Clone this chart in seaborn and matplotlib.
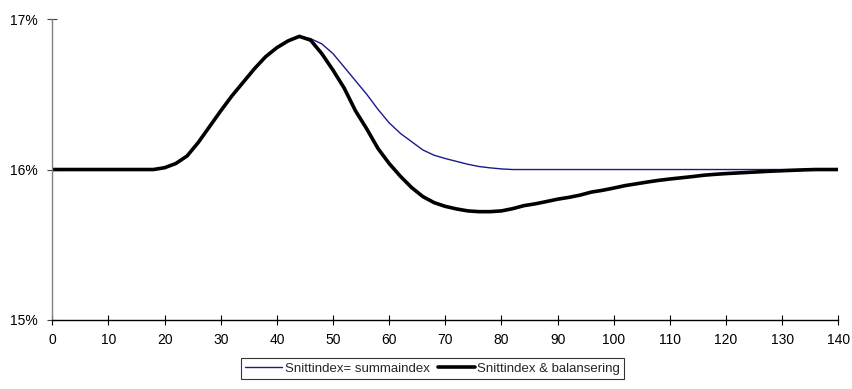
import matplotlib
matplotlib.use("Agg")
import matplotlib.pyplot as plt
from matplotlib.ticker import FuncFormatter
import pandas as pd
import seaborn as sns

# Period index
periods = [0, 18, 20, 22, 24, 26, 28, 30, 32, 34, 36, 38, 40, 42, 44, 46, 48,
           50, 52, 54, 56, 58, 60, 62, 64, 66, 68, 70, 72, 74, 76, 78, 80, 82,
           84, 86, 88, 90, 92, 94, 96, 98, 100, 102, 104, 106, 108, 110, 112,
           114, 116, 118, 120, 122, 124, 126, 128, 130, 132, 134, 136, 138, 140]

# Snittindex= summaindex (%)
summaindex = [16.00, 16.00, 16.012, 16.04, 16.09, 16.18, 16.285, 16.39, 16.49,
              16.58, 16.67, 16.75, 16.81, 16.855, 16.885, 16.87, 16.835,
              16.77, 16.68, 16.59, 16.50, 16.40, 16.31, 16.24, 16.185, 16.13,
              16.095, 16.073, 16.054, 16.035, 16.02, 16.011, 16.004, 16.00,
              16.00, 16.00, 16.00, 16.00, 16.00, 16.00, 16.00, 16.00, 16.00,
              16.00, 16.00, 16.00, 16.00, 16.00, 16.00, 16.00, 16.00, 16.00,
              16.00, 16.00, 16.00, 16.00, 16.00, 16.00, 16.00, 16.00, 16.00,
              16.00, 16.00]

# Snittindex & balansering (%)
balansering = [16.00, 16.00, 16.012, 16.04, 16.09, 16.18, 16.285, 16.39, 16.49,
               16.58, 16.67, 16.75, 16.81, 16.855, 16.885, 16.86, 16.77,
               16.66, 16.54, 16.39, 16.27, 16.14, 16.04, 15.955, 15.88, 15.82,
               15.78, 15.755, 15.738, 15.725, 15.72, 15.72, 15.725, 15.74,
               15.76, 15.772, 15.787, 15.803, 15.815, 15.83, 15.85, 15.862,
               15.877, 15.893, 15.905, 15.917, 15.928, 15.937, 15.945, 15.953,
               15.962, 15.968, 15.973, 15.977, 15.981, 15.985, 15.989, 15.992,
               15.995, 15.998, 16.00, 16.00, 16.00]

x_ticks = list(range(0, 141, 10))
y_ticks = [15, 16, 17]

sns.set_theme(style="white")
plt.rcParams["font.family"] = ["Liberation Sans", "DejaVu Sans"]

df = pd.DataFrame({"period": periods,
                   "Snittindex= summaindex": summaindex,
                   "Snittindex & balansering": balansering})

fig = plt.figure(figsize=(8.52, 3.89), dpi=100)
ax = fig.add_axes([0.0614, 0.1774, 0.9226, 0.7736])

sns.lineplot(data=df, x="period", y="Snittindex= summaindex", ax=ax,
             color="#1a1a8c", linewidth=1.0, label="Snittindex= summaindex")
sns.lineplot(data=df, x="period", y="Snittindex & balansering", ax=ax,
             color="black", linewidth=2.6, label="Snittindex & balansering")

ax.set_xlim(0, 140)
ax.set_ylim(15, 17)
ax.set_xticks(x_ticks)
ax.set_yticks(y_ticks)
ax.yaxis.set_major_formatter(FuncFormatter(lambda v, _: f"{v:.0f}%"))
ax.set_xlabel("")
ax.set_ylabel("")
ax.grid(False)

for side in ("top", "right"):
    ax.spines[side].set_visible(False)
ax.spines["left"].set_color("#808080")
ax.spines["left"].set_linewidth(1.0)
ax.spines["bottom"].set_color("black")
ax.spines["bottom"].set_linewidth(1.0)

ax.tick_params(axis="both", which="major", direction="inout", length=7,
               width=0.8, labelsize=10, labelcolor="black",
               bottom=True, left=True, top=False, right=False)
ax.tick_params(axis="y", color="#404040", pad=7)
ax.tick_params(axis="x", color="black", pad=6)

handles, labels = ax.get_legend_handles_labels()
ax.get_legend().remove()
leg = fig.legend(handles, labels, loc="lower center",
                 bbox_to_anchor=(0.508, 0.01), ncol=2, frameon=True,
                 fancybox=False, edgecolor="black", fontsize=9.5,
                 handlelength=2.8, handletextpad=0.2, columnspacing=0.6,
                 borderpad=0.3)
leg.get_frame().set_linewidth(0.8)

fig.savefig("out.png", dpi=100)
